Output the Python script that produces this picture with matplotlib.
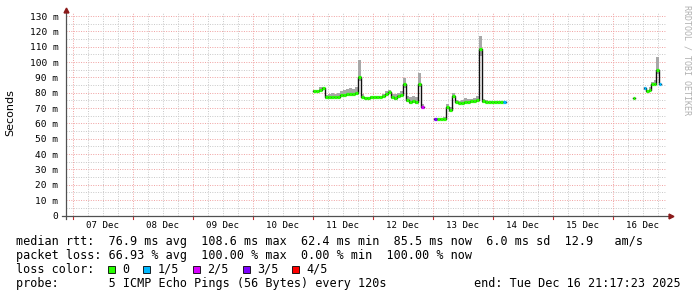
import numpy as np
import matplotlib
matplotlib.use("Agg")
import matplotlib.pyplot as plt
from matplotlib.patches import Rectangle
from matplotlib.lines import Line2D

W, H = 697, 297

# time axis: hours since 07 Dec 00:00, graph spans 10 days ending Tue Dec 16 21:17:23
t_end = 9 * 24 + 21 + 17 / 60 + 23 / 3600
t_start = t_end - 240
day_labels = ["07 Dec", "08 Dec", "09 Dec", "10 Dec", "11 Dec",
              "12 Dec", "13 Dec", "14 Dec", "15 Dec", "16 Dec"]
y_ticks = [0, 10, 20, 30, 40, 50, 60, 70, 80, 90, 100, 110, 120, 130]
y_labels = ["0", "10 m", "20 m", "30 m", "40 m", "50 m", "60 m", "70 m",
            "80 m", "90 m", "100 m", "110 m", "120 m", "130 m"]

# median rtt (ms), smoke min/max (ms), loss index per sample
seg_a_start, seg_a_step = 96.0, 1.2
seg_a_med = [81.3, 81.3, 82.0, 83.0, 77.0, 77.0, 77.0, 77.5, 77.5, 78.5, 78.5, 79.0, 79.0,
             79.0, 80.0, 90.0, 77.5, 76.5, 76.5, 77.0, 77.0, 77.0, 77.5, 78.0, 79.0, 80.5,
             77.0, 76.5, 78.0, 78.5, 85.5, 75.0, 74.0, 74.5, 74.0, 86.0, 71.0]
seg_a_lo = [80.5, 80.5, 81.0, 82.0, 76.0, 76.0, 76.2, 76.5, 76.5, 77.5, 77.5, 78.0, 78.0,
            78.0, 79.0, 88.0, 76.5, 75.8, 75.8, 76.2, 76.2, 76.2, 76.5, 77.0, 78.0, 79.5,
            76.0, 75.5, 77.0, 77.5, 83.0, 74.0, 73.0, 73.5, 73.0, 84.0, 70.0]
seg_a_hi = [82.0, 82.0, 83.5, 84.0, 78.5, 79.0, 80.0, 79.5, 80.0, 81.0, 82.0, 82.5, 83.0,
            82.5, 83.5, 101.5, 79.0, 77.5, 77.5, 77.8, 78.0, 78.0, 78.2, 79.5, 81.0, 82.0,
            79.0, 79.0, 80.0, 81.0, 89.5, 78.0, 77.0, 78.0, 77.0, 93.0, 72.5]
seg_a_loss = [0] * 36 + [2]

seg_b_start, seg_b_step = 144.4, 1.2
seg_b_med = [62.7, 62.7, 62.7, 63.0, 71.0, 68.5, 78.0, 74.0, 73.5, 73.5, 74.0, 74.0,
             74.5, 74.5, 75.0, 108.6, 74.5, 74.0, 74.0, 74.0, 74.0, 74.0, 74.0, 74.0]
seg_b_lo = [62.0, 62.0, 62.0, 62.2, 70.0, 67.5, 76.5, 73.2, 72.8, 72.8, 73.2, 73.2,
            73.6, 73.6, 74.0, 104.0, 73.6, 73.3, 73.3, 73.3, 73.3, 73.3, 73.3, 73.3]
seg_b_hi = [63.5, 63.5, 63.5, 64.0, 73.0, 71.0, 80.0, 75.0, 74.5, 75.0, 76.5, 76.0,
            76.0, 76.5, 78.0, 117.0, 76.0, 75.0, 74.8, 74.8, 74.8, 74.8, 74.8, 74.8]
seg_b_loss = [3] + [0] * 22 + [1]

seg_c_start, seg_c_step = 224.0, 1.0
seg_c_med = [76.3]
seg_c_lo = [75.8]
seg_c_hi = [76.8]
seg_c_loss = [0]

seg_d_start, seg_d_step = 228.4, 1.0
seg_d_med = [82.9, 81.0, 81.5, 85.5, 86.0, 95.0, 85.5]
seg_d_lo = [82.0, 80.3, 80.8, 84.8, 85.2, 92.0, 84.8]
seg_d_hi = [84.0, 82.0, 84.0, 87.0, 88.0, 103.5, 86.5]
seg_d_loss = [1, 0, 0, 0, 0, 0, 1]

loss_colors = ["#26ff00", "#00b8ff", "#d800ff", "#7e00ff", "#ff0000"]
loss_names = ["0", "1/5", "2/5", "3/5", "4/5"]

mono = "DejaVu Sans Mono"
ax_left, ax_right, ax_top, ax_bottom = 66, 666, 13, 215.5

fig = plt.figure(figsize=(W / 100, H / 100), dpi=100)
ax = fig.add_axes([ax_left / W, 1 - ax_bottom / H,
                   (ax_right - ax_left) / W, (ax_bottom - ax_top) / H])
ax.set_xlim(t_start, t_end)
ax.set_ylim(0, 132)
for s in ax.spines.values():
    s.set_visible(False)

# grid: grey every 5 m / 6 h, red every 10 m / midnight
minor_c = "#c8c8c8"
major_c = "#f0a0a0"
dots = (0, (1, 1.5))
for v in range(5, 131, 10):
    ax.axhline(v, color=minor_c, lw=0.7, ls=dots, zorder=0)
for v in y_ticks[1:]:
    ax.axhline(v, color=major_c, lw=0.7, ls=dots, zorder=0)
for h in np.arange(0, t_end, 6):
    if h % 24:
        ax.axvline(h, color=minor_c, lw=0.7, ls=dots, zorder=0)
for h in np.arange(0, t_end, 24):
    ax.axvline(h, color=major_c, lw=0.7, ls=dots, zorder=0)


def draw_segment(t0, step, med, lo, hi, loss):
    t = t0 + step * np.arange(len(med))
    lo = np.array(lo)
    hi = np.array(hi)
    # smoke
    ax.bar(t, hi - lo, bottom=lo, width=step, align="edge",
           color="#a8a8a8", linewidth=0, zorder=2)
    # median, black joins + loss coloured steps
    ax.step(np.append(t, t[-1] + step), np.append(med, med[-1]), where="post",
            color="#101010", lw=1.0, zorder=3)
    ax.hlines(med, t, t + step, colors=[loss_colors[i] for i in loss],
              lw=2.3, zorder=4)


draw_segment(seg_a_start, seg_a_step, seg_a_med, seg_a_lo, seg_a_hi, seg_a_loss)
draw_segment(seg_b_start, seg_b_step, seg_b_med, seg_b_lo, seg_b_hi, seg_b_loss)
draw_segment(seg_c_start, seg_c_step, seg_c_med, seg_c_lo, seg_c_hi, seg_c_loss)
draw_segment(seg_d_start, seg_d_step, seg_d_med, seg_d_lo, seg_d_hi, seg_d_loss)

ax.set_yticks(y_ticks)
ax.set_yticklabels(y_labels, fontfamily=mono, fontsize=6.8)
ax.tick_params(axis="y", length=0, pad=5.5)
ax.set_xticks([24 * i + 12 for i in range(len(day_labels))])
ax.set_xticklabels(day_labels, fontfamily=mono, fontsize=6.6)
ax.tick_params(axis="x", length=0, pad=4)

# axis lines with arrows
axis_c = "#505050"
arrow_c = "#8b1a1a"
fig.add_artist(Line2D([ax_left / W, ax_left / W], [1 - 219 / H, 1 - 11 / H],
                      color=axis_c, lw=0.9))
fig.add_artist(Line2D([62 / W, 669 / W], [1 - ax_bottom / H, 1 - ax_bottom / H],
                      color=axis_c, lw=0.9))
fig.add_artist(Line2D([ax_left / W], [1 - 10 / H], marker="^", ms=3.5,
                      color=arrow_c, lw=0))
fig.add_artist(Line2D([671 / W], [1 - ax_bottom / H], marker=">", ms=3.5,
                      color=arrow_c, lw=0))
for i in range(len(day_labels)):
    ax.plot([24 * i, 24 * i], [-2.0, 0], color="#c03030", lw=0.8, clip_on=False)

fig.text(10 / W, 1 - 113 / H, "Seconds", rotation=90, ha="center", va="center",
         fontsize=8, fontfamily="DejaVu Sans")
fig.text(687 / W, 1 - 5 / H, "RRDTOOL / TOBI OETIKER", rotation=270, ha="center",
         va="top", fontsize=6, fontfamily=mono, color="#b0b0b0")

# legend lines
fs = 8.5
cw = 7.08
ys = [241, 255.5, 269.5, 283.5]
fig.text(16 / W, 1 - ys[0] / H,
         "median rtt:  76.9 ms avg  108.6 ms max  62.4 ms min  85.5 ms now  6.0 ms sd  12.9   am/s",
         fontfamily=mono, fontsize=fs, ha="left", va="center")
fig.text(16 / W, 1 - ys[1] / H,
         "packet loss: 66.93 % avg  100.00 % max  0.00 % min  100.00 % now",
         fontfamily=mono, fontsize=fs, ha="left", va="center")
fig.text(16 / W, 1 - ys[2] / H, "loss color:", fontfamily=mono, fontsize=fs,
         ha="left", va="center")
box_cols = [13, 18, 25, 32, 39]
for col_idx, name, col in zip(box_cols, loss_names, loss_colors):
    x0 = 16 + col_idx * cw
    fig.add_artist(Rectangle((x0 / W, 1 - (ys[2] + 3.5) / H), 7 / W, 7 / H,
                             facecolor=col, edgecolor="black", lw=0.6))
    fig.text((x0 + 2 * cw) / W, 1 - ys[2] / H, name, fontfamily=mono, fontsize=fs,
             ha="left", va="center")
fig.text(16 / W, 1 - ys[3] / H,
         "probe:       5 ICMP Echo Pings (56 Bytes) every 120s",
         fontfamily=mono, fontsize=fs, ha="left", va="center")
fig.text(681 / W, 1 - ys[3] / H, "end: Tue Dec 16 21:17:23 2025", fontfamily=mono,
         fontsize=fs, ha="right", va="center")

fig.savefig("out.png", dpi=100)
